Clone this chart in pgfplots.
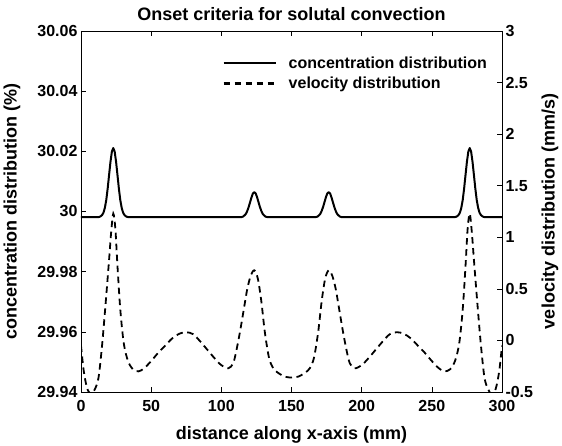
\documentclass[border=0pt]{standalone}
\usepackage{fontspec}
\setmainfont{Liberation Sans}
\usepackage{pgfplots}
\pgfplotsset{compat=1.18}
\usepackage{pgfplotstable}
\usetikzlibrary{calc}

% concentration (%), left axis
\pgfplotstableread{
x c
0 29.9981
12 29.9981
13 29.9982
14 29.9984
15 29.9988
16 29.9996
17 30.0012
18 30.0038
19 30.0076
20 30.0121
21 30.0165
22 30.0199
23 30.0211
24 30.0199
25 30.0165
26 30.0121
27 30.0076
28 30.0038
29 30.0012
30 29.9996
31 29.9988
32 29.9984
33 29.9982
34 29.9981
114 29.9981
115.5 29.9983
116.5 29.9987
117.5 29.9992
118.5 30.0002
119.5 30.0015
120.5 30.0031
121.5 30.0047
122.5 30.0060
123.5 30.0064
124.5 30.0060
125.5 30.0047
126.5 30.0031
127.5 30.0015
128.5 30.0002
129.5 29.9992
130.5 29.9987
131.5 29.9983
133 29.9981
167 29.9981
168.5 29.9983
169.5 29.9987
170.5 29.9992
171.5 30.0002
172.5 30.0015
173.5 30.0031
174.5 30.0047
175.5 30.0060
176.5 30.0064
177.5 30.0060
178.5 30.0047
179.5 30.0031
180.5 30.0015
181.5 30.0002
182.5 29.9992
183.5 29.9987
184.5 29.9983
186 29.9981
266 29.9981
267 29.9982
268 29.9984
269 29.9988
270 29.9996
271 30.0012
272 30.0038
273 30.0076
274 30.0121
275 30.0165
276 30.0199
277 30.0211
278 30.0199
279 30.0165
280 30.0121
281 30.0076
282 30.0038
283 30.0012
284 29.9996
285 29.9988
286 29.9984
287 29.9982
288 29.9981
300 29.9981
}\conc

% velocity (mm/s), right axis
\pgfplotstableread{
x v
0 -0.05
2 -0.30
4.5 -0.47
7.5 -0.52
10 -0.47
12.5 -0.36
15 -0.05
17.5 0.35
20 0.78
21.5 1.05
23 1.23
24.5 1.08
26 0.72
28 0.30
30.5 -0.03
33.5 -0.20
37 -0.28
41 -0.30
45 -0.27
50 -0.20
55 -0.12
60 -0.05
65 0.02
70 0.065
75 0.08
80 0.06
85 -0.01
90 -0.09
95 -0.17
100 -0.24
105 -0.27
108.5 -0.22
111 -0.08
113.5 0.10
116 0.30
118.5 0.50
121 0.63
123.5 0.68
126 0.60
128.5 0.38
131 0.08
134 -0.17
137 -0.27
140 -0.31
145 -0.35
150 -0.36
155 -0.35
160 -0.31
163 -0.27
166 -0.17
169 0.08
171.5 0.38
174 0.60
176.5 0.68
179 0.63
181.5 0.50
184 0.30
186.5 0.10
189 -0.08
191.5 -0.22
195 -0.27
200 -0.24
205 -0.17
210 -0.09
215 -0.01
220 0.06
225 0.08
230 0.065
235 0.02
240 -0.05
245 -0.12
250 -0.20
255 -0.27
259 -0.30
263 -0.28
266.5 -0.20
269.5 -0.03
272 0.30
274 0.72
275.5 1.08
277 1.23
278.5 1.05
280 0.78
282.5 0.35
285 -0.05
287.5 -0.36
290 -0.47
292.5 -0.52
295.5 -0.47
298 -0.30
300 -0.05
}\velo

\pgfplotsset{
  every axis/.append style={
    scale only axis, width=421bp, height=361bp,
    font=\fontsize{16bp}{18bp}\selectfont\bfseries,
    tick align=inside, major tick length=5bp,
    tick style={black, line width=0.5pt},
    axis line style={line width=0.6pt},
    /pgf/number format/assume math mode=true,
    xmin=0, xmax=300, minor tick num=0,
    label style={font=\fontsize{18bp}{20bp}\selectfont\bfseries},
    title style={font=\fontsize{18bp}{20bp}\selectfont\bfseries},
  },
}

\begin{document}
\begin{tikzpicture}
\begin{axis}[
  ymin=29.94, ymax=30.06,
  ytick={29.94,29.96,29.98,30,30.02,30.04,30.06},
  yticklabel style={/pgf/number format/fixed, /pgf/number format/precision=2},
  xtick={0,50,...,300},
  xticklabel style={yshift=-5bp},
  xtick pos=both, ytick pos=left,
  scaled y ticks=false,
  title={Onset criteria for solutal convection},
  title style={at={(rel axis cs:0.5,1)}, anchor=center, yshift=11bp},
  xlabel={distance along x-axis (mm)},
  xlabel style={at={(rel axis cs:0.5,0)}, anchor=center, yshift=-43bp},
  ylabel={concentration distribution (\%)},
  ylabel style={at={(rel axis cs:0,0.5)}, anchor=center, yshift=69bp},
  legend style={draw=none, fill=none, at={(rel axis cs:0.329,0.94)}, anchor=north west,
    row sep=3bp, font=\fontsize{16bp}{18bp}\selectfont\bfseries},
  legend cell align=left,
  legend image code/.code={\path[draw=black, #1, line width=2.1pt] (0bp,0bp) -- (52bp,0bp); \path (62bp,0bp);},
]
\coordinate (bl) at (rel axis cs:0,0);
\coordinate (tr) at (rel axis cs:1,1);
\addplot[black, line width=2pt, line join=round] table[x=x, y=c] {\conc};
\addlegendentry{concentration distribution}
\addlegendimage{black, dash pattern=on 6.5bp off 4.5bp}
\addlegendentry{velocity distribution}
\end{axis}
\begin{axis}[
  ymin=-0.5, ymax=3,
  ytick={-0.5,0,0.5,1,1.5,2,2.5,3},
  axis y line*=right, axis x line=none,
  ylabel={velocity distribution (mm/s)},
  ylabel style={at={(rel axis cs:1,0.5)}, anchor=center, yshift=-48bp},
]
\addplot[black, line width=1.8pt, dash pattern=on 6.5bp off 4.5bp, smooth] table[x=x, y=v] {\velo};
\end{axis}
\pgfresetboundingbox
\path ($(bl)+(-81bp,-54bp)$) rectangle ($(tr)+(60bp,31bp)$);
\end{tikzpicture}
\end{document}
